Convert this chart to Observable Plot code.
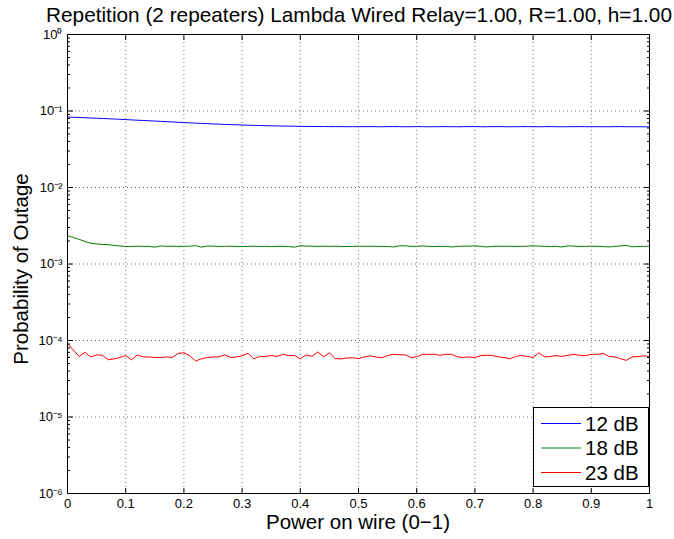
<!DOCTYPE html>
<html>
<head>
<meta charset="utf-8">
<script src="https://cdn.jsdelivr.net/npm/d3@7"></script>
<script src="https://cdn.jsdelivr.net/npm/@observablehq/plot@0.6"></script>
<style>
  html, body { margin: 0; padding: 0; background: #fff; overflow: hidden; }
  body { font-family: "Liberation Sans", Arial, Helvetica, sans-serif; color: #000; }
  #wrap { position: relative; width: 674px; height: 539px; }
  #title { position: absolute; left: 37px; width: 644px; top: 3px; text-align: center; font-size: 20.8px; line-height: 24px; white-space: nowrap; }
  #xlabel { position: absolute; left: 67px; width: 582px; top: 515px; text-align: center; font-size: 20.5px; line-height: 13px; white-space: nowrap; }
  #ylabel { position: absolute; left: 21px; top: 269px; transform: translate(-50%, -50%) rotate(-90deg); font-size: 20.5px; line-height: 20px; white-space: nowrap; }
  #legend { position: absolute; left: 533px; top: 407px; width: 114px; height: 78px; border: 1px solid #000; background: #fff; }
  #legend svg { position: absolute; left: 0; top: 0; }
  .tx { position: absolute; left: 51px; font-size: 20.5px; line-height: 22px; white-space: nowrap; }
</style>
</head>
<body>
<div id="wrap">
  <div id="chart"></div>
  <div id="title"></div>
  <div id="xlabel"></div>
  <div id="ylabel"></div>
  <div id="legend"></div>
</div>
<script>
const titleText = "Repetition (2 repeaters) Lambda Wired Relay=1.00, R=1.00, h=1.00";
const xLabel = "Power on wire (0\u22121)";
const yLabel = "Probability of Outage";

const seriesNames = ["12 dB", "18 dB", "23 dB"];
const seriesColors = ["#0000ff", "#008000", "#ff0000"];

const xTicks = [0, 0.1, 0.2, 0.3, 0.4, 0.5, 0.6, 0.7, 0.8, 0.9, 1];
const xTickLabels = ["0", "0.1", "0.2", "0.3", "0.4", "0.5", "0.6", "0.7", "0.8", "0.9", "1"];
const yTicks = [1e-6, 1e-5, 1e-4, 1e-3, 1e-2, 1e-1, 1];
const yTickLabels = ["10\u207B\u2076", "10\u207B\u2075", "10\u207B\u2074", "10\u207B\u00B3", "10\u207B\u00B2", "10\u207B\u00B9", "10\u2070"];

// power on wire, 0 .. 1 in steps of 0.01
const power = d3.range(101).map(i => i / 100);

// 12 dB
const outage12 = [
  0.0835, 0.0828, 0.0822, 0.0816, 0.0810, 0.0804, 0.0798, 0.0792, 0.0786, 0.0780,
  0.0772, 0.0765, 0.0758, 0.0752, 0.0745, 0.0739, 0.0732, 0.0725, 0.0719, 0.0712,
  0.0706, 0.0700, 0.0694, 0.0689, 0.0683, 0.0678, 0.0673, 0.0668, 0.0664, 0.0660,
  0.0656, 0.0652, 0.0649, 0.0646, 0.0643, 0.0640, 0.0638, 0.0636, 0.0634, 0.0632,
  0.0630, 0.0629, 0.0628, 0.0627, 0.0626, 0.0625, 0.0624, 0.0625, 0.0623, 0.0624,
  0.0622, 0.0624, 0.0625, 0.0623, 0.0622, 0.0624, 0.0625, 0.0624, 0.0622, 0.0623,
  0.0625, 0.0624, 0.0622, 0.0623, 0.0624, 0.0625, 0.0623, 0.0622, 0.0624, 0.0624,
  0.0625, 0.0623, 0.0622, 0.0624, 0.0625, 0.0623, 0.0622, 0.0623, 0.0624, 0.0625,
  0.0623, 0.0622, 0.0624, 0.0625, 0.0623, 0.0622, 0.0623, 0.0624, 0.0625, 0.0623,
  0.0622, 0.0624, 0.0623, 0.0622, 0.0624, 0.0625, 0.0623, 0.0622, 0.0623, 0.0621,
  0.0620
];

// 18 dB (x 1e-3)
const outage18 = [
  2.35, 2.22, 2.10, 1.97, 1.87, 1.83, 1.80, 1.79, 1.75, 1.72,
  1.69, 1.70, 1.71, 1.70, 1.70, 1.66, 1.72, 1.70, 1.71, 1.70,
  1.70, 1.71, 1.74, 1.66, 1.72, 1.71, 1.70, 1.70, 1.71, 1.70,
  1.69, 1.70, 1.71, 1.70, 1.70, 1.69, 1.70, 1.70, 1.69, 1.66,
  1.73, 1.71, 1.71, 1.70, 1.71, 1.70, 1.71, 1.70, 1.69, 1.70,
  1.71, 1.70, 1.71, 1.70, 1.70, 1.69, 1.67, 1.73, 1.73, 1.70,
  1.70, 1.72, 1.70, 1.69, 1.70, 1.70, 1.67, 1.70, 1.71, 1.71,
  1.73, 1.70, 1.67, 1.70, 1.71, 1.70, 1.71, 1.70, 1.70, 1.71,
  1.73, 1.71, 1.70, 1.69, 1.70, 1.67, 1.73, 1.71, 1.70, 1.70,
  1.71, 1.70, 1.69, 1.67, 1.70, 1.72, 1.75, 1.68, 1.69, 1.70,
  1.71
].map(v => v * 1e-3);

// 23 dB (x 1e-5)
const outage23 = [
  9.1, 7.5, 6.2, 7.0, 6.1, 6.5, 6.4, 5.6, 5.75, 6.0,
  6.35, 5.6, 6.5, 6.1, 6.1, 6.0, 6.0, 6.1, 6.0, 6.8,
  6.9, 6.35, 5.4, 5.75, 6.0, 6.1, 6.1, 6.5, 6.0, 6.1,
  6.3, 6.8, 5.75, 6.2, 6.2, 6.35, 6.2, 6.6, 6.35, 6.35,
  5.75, 6.5, 6.2, 7.1, 6.1, 6.9, 5.8, 5.75, 5.9, 5.95,
  5.8, 6.1, 6.3, 6.1, 5.95, 6.35, 6.6, 6.5, 6.5, 6.0,
  6.1, 6.6, 6.6, 6.6, 6.4, 6.6, 6.6, 6.1, 6.0, 6.1,
  6.0, 6.35, 6.4, 6.4, 6.1, 6.0, 5.75, 6.2, 6.35, 6.2,
  6.0, 6.9, 6.1, 6.2, 6.35, 6.2, 6.4, 6.6, 6.4, 6.35,
  6.6, 6.6, 6.8, 6.2, 6.1, 5.8, 5.5, 6.1, 6.15, 6.3,
  6.2
].map(v => v * 1e-5);

const allSeries = [outage12, outage18, outage23];
const rows = [];
allSeries.forEach((vals, s) => vals.forEach((v, i) => rows.push({x: power[i], y: v, s: seriesNames[s]})));

const yMinor = [];
for (let k = -6; k < 0; k++) for (let m = 2; m <= 9; m++) yMinor.push(m * Math.pow(10, k));

const fontFam = "'Liberation Sans', Arial, Helvetica, sans-serif";
const blank = () => "";

const chart = Plot.plot({
  width: 674,
  height: 539,
  marginLeft: 67,
  marginRight: 25,
  marginTop: 34,
  marginBottom: 46,
  style: {fontFamily: fontFam, fontSize: "13px", background: "white", color: "#000", overflow: "visible"},
  x: {domain: [0, 1]},
  y: {type: "log", domain: [1e-6, 1]},
  color: {domain: seriesNames, range: seriesColors},
  marks: [
    Plot.gridX(xTicks, {stroke: "#000", strokeOpacity: 0.55, strokeDasharray: "1,3"}),
    Plot.gridY(yTicks, {stroke: "#000", strokeOpacity: 0.55, strokeDasharray: "1,3"}),
    Plot.line(rows, {x: "x", y: "y", z: "s", stroke: "s", strokeWidth: 1}),
    Plot.frame({stroke: "#000", strokeWidth: 1}),
    // inward ticks
    Plot.axisX(xTicks, {anchor: "bottom", tickSize: -5, tickFormat: blank, label: null}),
    Plot.axisX(xTicks, {anchor: "top", tickSize: -5, tickFormat: blank, label: null}),
    Plot.axisY(yTicks, {anchor: "left", tickSize: -6, tickFormat: blank, label: null}),
    Plot.axisY(yTicks, {anchor: "right", tickSize: -6, tickFormat: blank, label: null}),
    Plot.axisY(yMinor, {anchor: "left", tickSize: -3, tickFormat: blank, label: null}),
    Plot.axisY(yMinor, {anchor: "right", tickSize: -3, tickFormat: blank, label: null}),
    // tick labels
    Plot.axisX(xTicks, {anchor: "bottom", tickSize: 0, tickPadding: 5, fontSize: 13, tickFormat: d => xTickLabels[xTicks.indexOf(d)], label: null}),
    Plot.axisY(yTicks, {anchor: "left", tickSize: 0, tickPadding: 5, fontSize: 13, tickFormat: d => yTickLabels[yTicks.indexOf(d)], label: null})
  ]
});
document.getElementById("chart").appendChild(chart);

document.getElementById("title").textContent = titleText;
document.getElementById("xlabel").textContent = xLabel;
document.getElementById("ylabel").textContent = yLabel;

// legend
const legend = document.getElementById("legend");
const NS = "http://www.w3.org/2000/svg";
const lsvg = document.createElementNS(NS, "svg");
lsvg.setAttribute("width", "114");
lsvg.setAttribute("height", "78");
legend.appendChild(lsvg);
seriesNames.forEach((name, i) => {
  const cy = 15.5 + i * 24.5;
  const ln = document.createElementNS(NS, "line");
  ln.setAttribute("x1", "7");
  ln.setAttribute("x2", "47");
  ln.setAttribute("y1", cy);
  ln.setAttribute("y2", cy);
  ln.setAttribute("stroke", seriesColors[i]);
  ln.setAttribute("stroke-width", "1");
  lsvg.appendChild(ln);
  const tx = document.createElement("div");
  tx.className = "tx";
  tx.style.top = (cy - 11) + "px";
  tx.textContent = name;
  legend.appendChild(tx);
});
</script>
</body>
</html>
